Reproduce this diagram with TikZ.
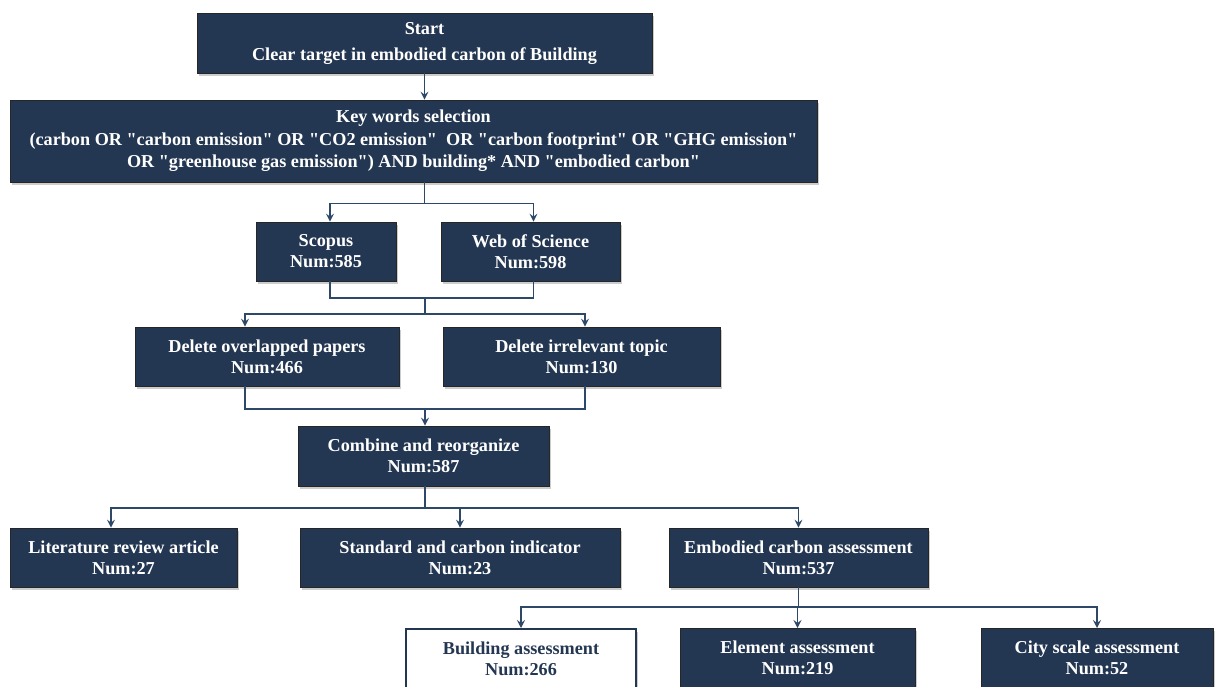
\documentclass[tikz,border=0pt]{standalone}
\usepackage{fontspec}
\setmainfont{Liberation Serif}[Ligatures=TeXOff]
\usetikzlibrary{arrows.meta,shadows,calc}
\definecolor{navy}{HTML}{243752}
\definecolor{linec}{HTML}{2E4868}
\begin{document}
\begin{tikzpicture}[x=1pt,y=-1pt,
  box/.style={draw=black!85, line width=0.8pt, fill=navy, text=white,
    font=\bfseries\fontsize{18.2}{21}\selectfont, align=center, inner sep=0pt,
    drop shadow={shadow xshift=2pt,shadow yshift=-3pt,opacity=0.4}},
  wbox/.style={box, fill=white, draw=navy, line width=2.2pt, text=navy},
  line/.style={draw=linec, line width=1.4pt},
  arr/.style={line, -{Stealth[length=8pt,width=8pt,inset=3pt]}}]
\useasboundingbox (0,0) rectangle (1216,686);
\clip (0,0) rectangle (1216,686);

\node[box, minimum width=455pt, minimum height=60pt, font=\bfseries\fontsize{18.2}{26}\selectfont] (start) at (424.5,43)
  {Start\\Clear target in embodied carbon of Building};
\node[box, minimum width=807pt, minimum height=82pt, font=\bfseries\fontsize{18.2}{22.5}\selectfont] (kw) at (413.5,141)
  {Key words selection\\(carbon OR "carbon emission" OR "CO2 emission"\ \ OR "carbon footprint" OR "GHG emission"\\OR "greenhouse gas emission") AND building* AND "embodied carbon"};
\node[box, minimum width=140pt, minimum height=59pt] (scopus) at (326,251.5) {Scopus\\Num:585};
\node[box, minimum width=179pt, minimum height=59pt] (wos) at (530.5,251.5) {Web of Science\\Num:598};
\node[box, minimum width=264pt, minimum height=59pt] (del1) at (267,356.5) {Delete overlapped papers\\Num:466};
\node[box, minimum width=277pt, minimum height=59pt] (del2) at (581.5,356.5) {Delete irrelevant topic\\Num:130};
\node[box, minimum width=251pt, minimum height=60pt] (comb) at (423.5,456) {Combine and reorganize\\Num:587};
\node[box, minimum width=227pt, minimum height=59pt] (lit) at (123.5,557.5) {Literature review article\\Num:27};
\node[box, minimum width=320pt, minimum height=59pt] (std) at (460,557.5) {Standard and carbon indicator\\Num:23};
\node[box, minimum width=259pt, minimum height=59pt] (emb) at (798.5,557.5) {Embodied carbon assessment\\Num:537};
\node[wbox, minimum width=230pt, minimum height=59pt, anchor=north] (bld) at (521,628) {Building assessment\\Num:266};
\node[box, minimum width=235pt, minimum height=59pt, anchor=north] (ele) at (797.5,628) {Element assessment\\Num:219};
\node[box, minimum width=232pt, minimum height=59pt, anchor=north] (city) at (1097,628) {City scale assessment\\Num:52};

% start -> keywords
\draw[arr] (start.south) -- (kw.north -| start.south);
% keywords -> databases
\coordinate (j1) at ($(kw.south -| start.south)+(0,21)$);
\draw[line] (kw.south -| start.south) -- (j1);
\draw[arr] (j1) -| ([xshift=4pt]scopus.north);
\draw[arr] (j1) -| ([xshift=3pt]wos.north);
% databases -> delete
\coordinate (j2) at (425,298);
\coordinate (j3) at (425,314);
\draw[line] ([xshift=4pt]scopus.south) |- (j2) -| ([xshift=3pt]wos.south);
\draw[line] (j2) -- (j3);
\draw[arr] (j3) -| ([xshift=-22pt]del1.north);
\draw[arr] (j3) -| ([xshift=3.5pt]del2.north);
% delete -> combine
\coordinate (j4) at (425,409);
\draw[line] ([xshift=-22pt]del1.south) |- (j4) -| ([xshift=3.5pt]del2.south);
\draw[arr] (j4) -- (comb.north -| j4);
% combine -> categories
\coordinate (j5) at (425,508);
\draw[line] (comb.south -| j5) -- (j5);
\draw[arr] (j5) -| ([xshift=-12.5pt]lit.north);
\draw[arr] (j5) -| (std.north);
\draw[arr] (j5) -| (emb.north);
% embodied -> assessments
\coordinate (j6) at (798.5,607);
\draw[line] (emb.south) -- (j6);
\draw[arr] (j6) -| (bld.north);
\draw[arr] (j6) -| (ele.north);
\draw[arr] (j6) -| (city.north);
\end{tikzpicture}
\end{document}
